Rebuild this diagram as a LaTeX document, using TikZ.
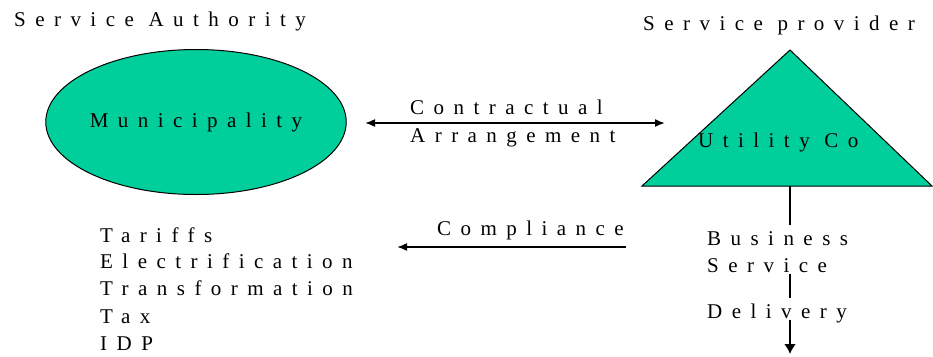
\documentclass[tikz,border=0pt]{standalone}
\usepackage{fontspec}
\setmainfont{Liberation Serif}[LetterSpace=45]
\usetikzlibrary{shapes.geometric,arrows.meta}
\definecolor{shapegreen}{RGB}{0,206,155}
\begin{document}
\begin{tikzpicture}[x=1pt,y=-1pt,
  lbl/.style={font=\fontsize{21}{26}\selectfont, inner sep=0pt},
  vlab/.style={lbl, anchor=base west, text height=20pt, text depth=1.5pt},
  tip/.style={Latex[length=10pt,width=8pt]},
  harr/.style={-{Latex[length=10pt,width=8pt]}, line width=1.6pt},
  varr/.style={line width=2.4pt}]
\useasboundingbox (0,0) rectangle (933,356);
% titles
\node[lbl, anchor=base west] (sa) at (14,27) {Service Authority};
\node[lbl, anchor=base west] (sp) at (643,30) {Service provider};
% municipality
\node[ellipse, draw, fill=shapegreen, line width=1pt, minimum width=296pt, minimum height=145pt, lbl] (muni) at (196,122) {Municipality};
% utility triangle
\coordinate (apex) at (790,50);
\coordinate (bl) at (642,186);
\coordinate (br) at (932,186);
\draw[fill=shapegreen, line width=1pt] (apex) -- (bl) -- (br) -- cycle;
\node[lbl, anchor=base west] (util) at (698,147) {Utility Co};
% contractual arrangement
\coordinate (ca) at (365,123);
\coordinate (cb) at (665,123);
\draw[harr, {Latex[length=10pt,width=8pt]}-{Latex[length=10pt,width=8pt]}] (ca) -- (cb);
\node[lbl, anchor=base west] (contr) at (410,114) {Contractual};
\node[lbl, anchor=base west] (arr) at (410,142) {Arrangement};
% compliance
\coordinate (c1) at (626,247);
\coordinate (c2) at (397,247);
\draw[harr] (c1) -- (c2);
\node[lbl, anchor=base west] (compl) at (437,235) {Compliance};
% list
\node[lbl, anchor=base west] (l1) at (100,242) {Tariffs};
\node[lbl, anchor=base west] (l2) at (100,268) {Electrification};
\node[lbl, anchor=base west] (l3) at (100,295) {Transformation};
\node[lbl, anchor=base west] (l4) at (100,323) {Tax};
\node[lbl, anchor=base west] (l5) at (100,350) {IDP};
% business service delivery
\coordinate (tb) at (790,186);
\node[vlab] (bus) at (707,245) {Business};
\node[vlab] (serv) at (707,272) {Service};
\node[vlab] (del) at (707,318) {Delivery};
\coordinate (vend) at (790,354);
\draw[varr] (tb) -- (tb |- bus.north);
\draw[varr] (tb |- serv.south) -- (tb |- del.north);
\draw[varr, -{Latex[length=10pt,width=12pt]}] (tb |- del.south) -- (vend);
\end{tikzpicture}
\end{document}
